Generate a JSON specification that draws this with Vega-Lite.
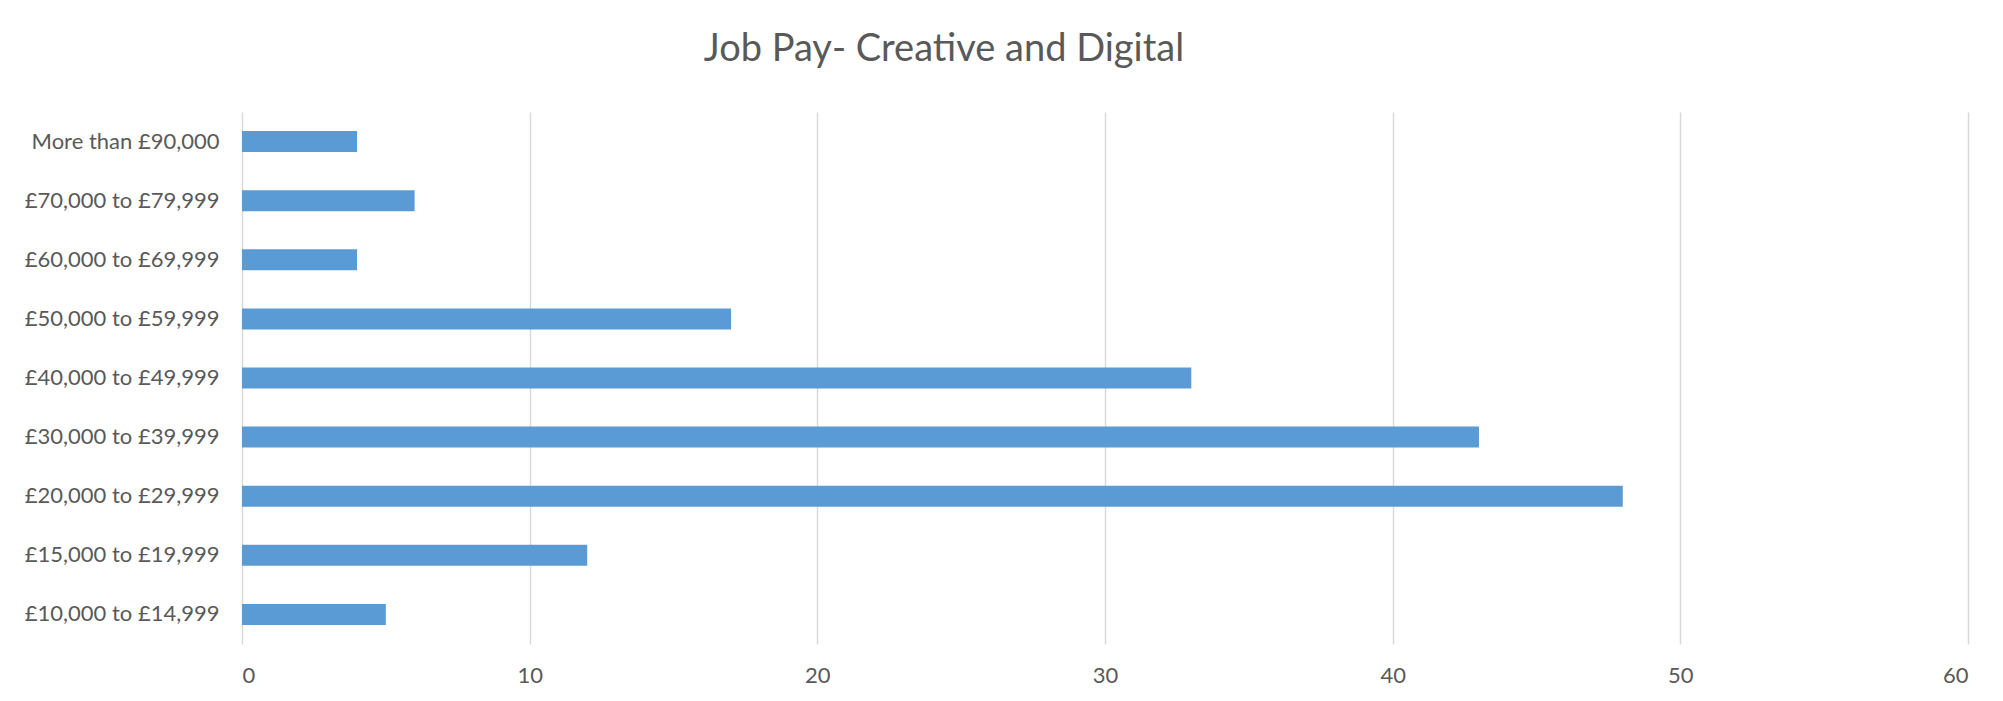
{
  "$schema": "https://vega.github.io/schema/vega-lite/v6.json",
  "width": 1726,
  "height": 532,
  "autosize": {"type": "none"},
  "padding": {"left": 242, "top": 112, "right": 35, "bottom": 57},
  "background": "white",
  "title": {
    "text": "Job Pay- Creative and Digital",
    "font": "Lato",
    "fontSize": 38,
    "fontWeight": "normal",
    "color": "#595959",
    "anchor": "middle",
    "dx": -161,
    "offset": 43
  },
  "data": {
    "values": [
      {"band": "More than £90,000", "count": 4},
      {"band": "£70,000 to £79,999", "count": 6},
      {"band": "£60,000 to £69,999", "count": 4},
      {"band": "£50,000 to £59,999", "count": 17},
      {"band": "£40,000 to £49,999", "count": 33},
      {"band": "£30,000 to £39,999", "count": 43},
      {"band": "£20,000 to £29,999", "count": 48},
      {"band": "£15,000 to £19,999", "count": 12},
      {"band": "£10,000 to £14,999", "count": 5}
    ]
  },
  "mark": {"type": "bar", "color": "#5B9BD5"},
  "encoding": {
    "y": {
      "field": "band",
      "type": "nominal",
      "sort": null,
      "scale": {"paddingInner": 0.645, "paddingOuter": 0.3225},
      "axis": {
        "title": null,
        "domain": false,
        "ticks": false,
        "labelFont": "Lato",
        "labelFontSize": 22,
        "labelLimit": 0,
        "labelColor": "#595959",
        "labelPadding": 23
      }
    },
    "x": {
      "field": "count",
      "type": "quantitative",
      "scale": {"domain": [0, 60], "nice": false},
      "axis": {
        "title": null,
        "values": [0, 10, 20, 30, 40, 50, 60],
        "domain": false,
        "ticks": false,
        "grid": true,
        "gridColor": "#d9d9d9",
        "gridWidth": 1.5,
        "labelFont": "Lato",
        "labelFontSize": 22,
        "labelColor": "#595959",
        "labelPadding": 21
      }
    }
  },
  "config": {"view": {"stroke": null}}
}
